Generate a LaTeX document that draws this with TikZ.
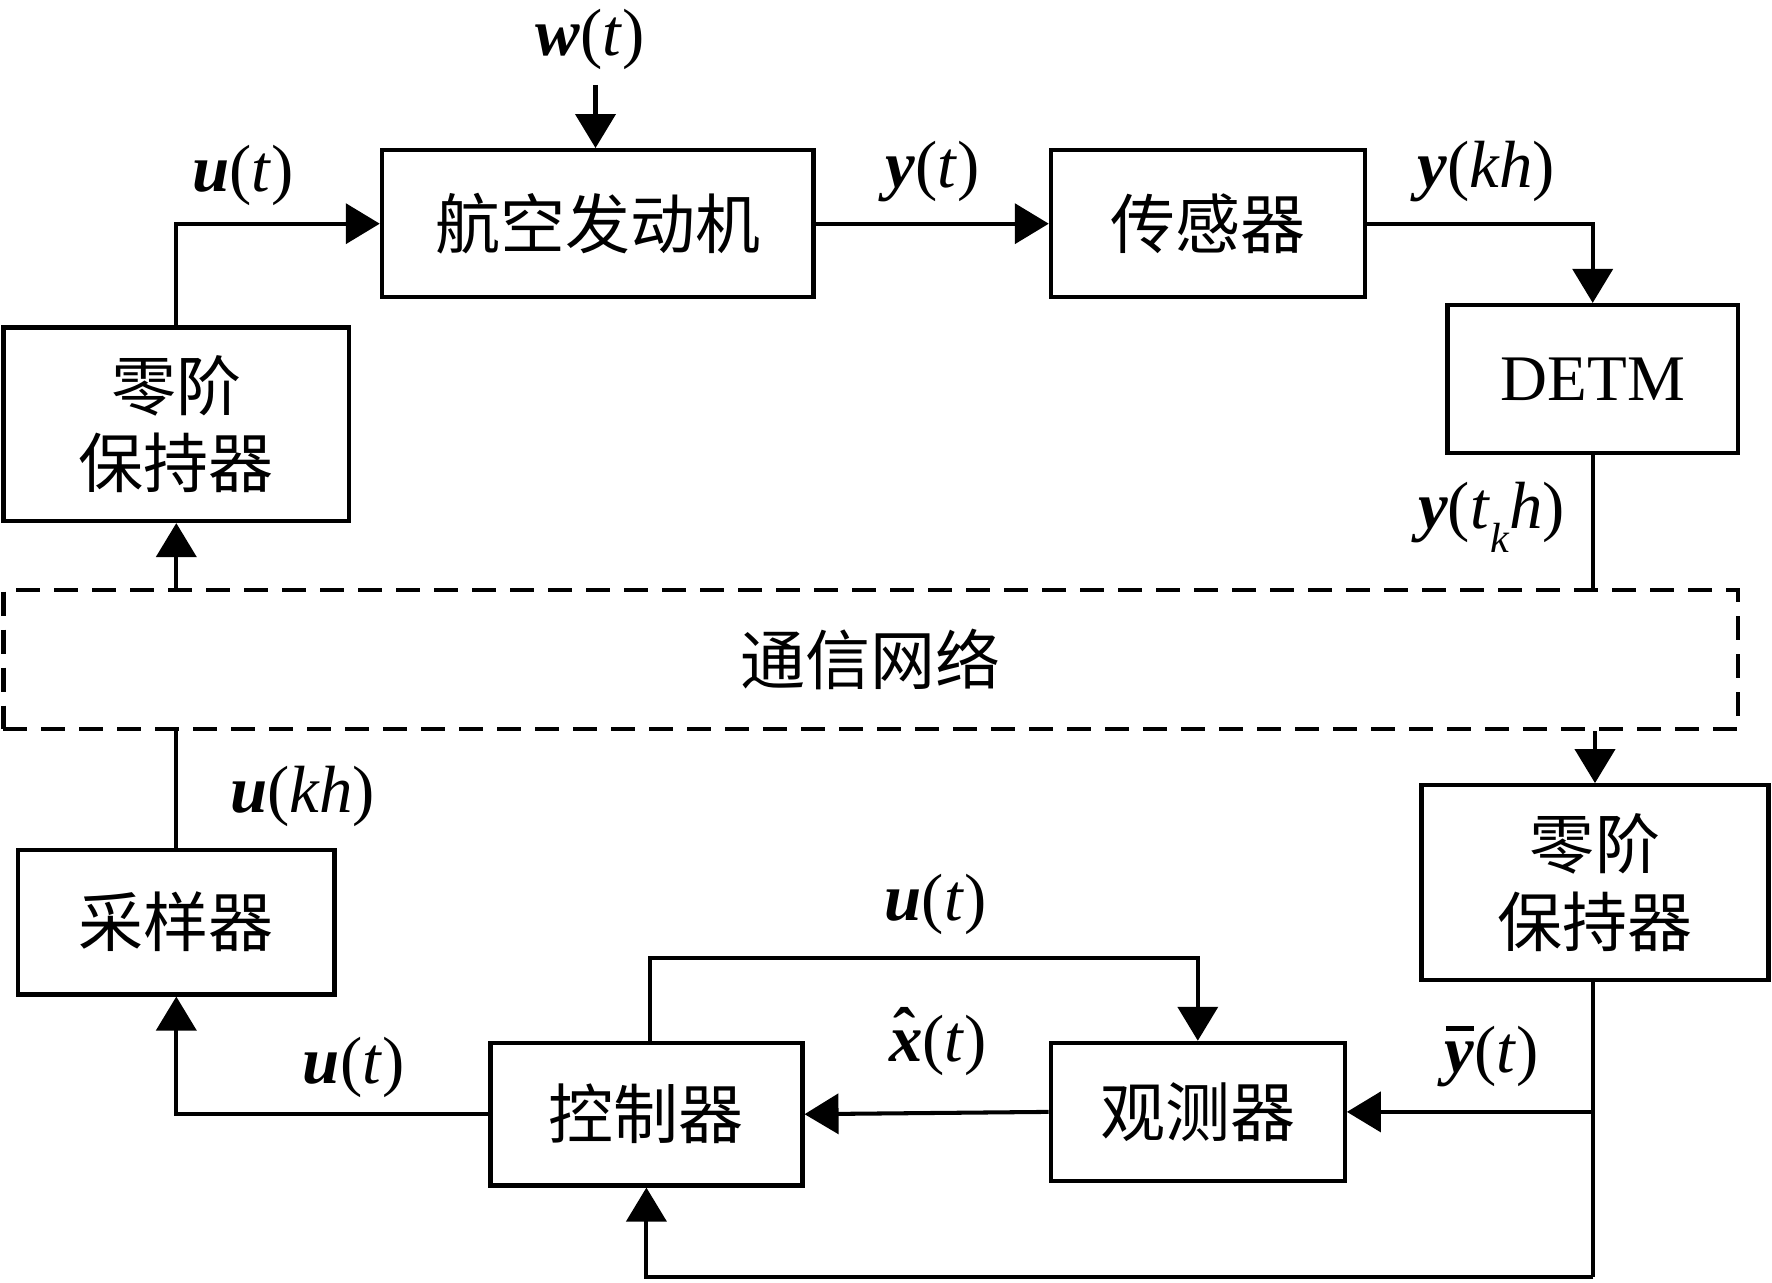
\documentclass[tikz,border=0pt]{standalone}
\usepackage{fontspec}
\setmainfont{Liberation Serif}
\newfontfamily\cjk{Noto Sans CJK SC}
\usetikzlibrary{arrows.meta}
\newcommand{\bv}[1]{\textbf{\textit{#1}}}
\newcommand{\iv}[1]{\textit{#1}}
\tikzset{
  blk/.style={draw, line width=1.25pt, inner sep=0pt, align=center,
    font=\cjk\fontsize{18.5}{22}\selectfont},
  arr/.style={-{Triangle[length=3.4mm,width=4mm]}, line width=1.15pt},
  ln/.style={line width=1.15pt},
  lab/.style={font=\fontsize{19}{22}\selectfont, inner sep=0pt},
}
\begin{document}
\begin{tikzpicture}
\useasboundingbox (0,0) rectangle (17.72,-12.826);
% blocks
\node[blk, minimum width=3.458cm, minimum height=1.932cm] (lzoh) at (1.763,-4.243) {零阶\\保持器};
\node[blk, minimum width=4.317cm, minimum height=1.469cm] (eng) at (5.978,-2.237) {航空发动机};
\node[blk, minimum width=3.141cm, minimum height=1.469cm] (sens) at (12.080,-2.237) {传感器};
\node[blk, minimum width=2.904cm, minimum height=1.480cm, font=\fontsize{18.5}{22}\selectfont] (detm) at (15.927,-3.791) {DETM};
\node[blk, dashed, dash pattern=on 2.4mm off 1.4mm, minimum width=17.346cm, minimum height=1.390cm] (net) at (8.707,-6.594) {通信网络};
\node[blk, minimum width=3.469cm, minimum height=1.944cm] (rzoh) at (15.950,-8.825) {零阶\\保持器};
\node[blk, minimum width=2.938cm, minimum height=1.379cm] (obs) at (11.978,-11.119) {观测器};
\node[blk, minimum width=3.119cm, minimum height=1.424cm] (ctrl) at (6.464,-11.142) {控制器};
\node[blk, minimum width=3.164cm, minimum height=1.446cm] (samp) at (1.763,-9.221) {采样器};
% labels
\node[lab] (lw) at (5.899,-0.396) {\bv{w}(\iv{t})};
\node[lab] (lu1) at (2.430,-1.752) {\bv{u}(\iv{t})};
\node[lab] (ly) at (9.323,-1.718) {\bv{y}(\iv{t})};
\node[lab] (lykh) at (14.860,-1.718) {\bv{y}(\iv{kh})};
\node[lab] (lytk) at (14.916,-5.175) {\bv{y}(\iv{t}\raisebox{-0.35em}{\fontsize{12}{14}\selectfont\iv{k}}\iv{h})};
\node[lab] (lukh) at (3.028,-7.967) {\bv{u}(\iv{kh})};
\node[lab] (lu2) at (9.356,-9.040) {\bv{u}(\iv{t})};
\node[lab] (lx) at (9.379,-10.419) {\makebox[0pt][l]{\hspace{0.07em}\raisebox{0.1em}{\textbf{ˆ}}}\bv{x}(\iv{t})};
\node[lab] (lyb) at (14.916,-10.566) {\makebox[0pt][l]{\raisebox{0.62em}{\hspace{0.02em}\rule{0.42em}{0.07em}}}\bv{y}(\iv{t})};
\node[lab] (lu3) at (3.537,-10.679) {\bv{u}(\iv{t})};
% connectors
\coordinate (wtop) at (5.955,-0.848);
\draw[arr] (wtop) -- (wtop |- eng.north);
\draw[arr] (lzoh.north) |- (eng.west);
\draw[arr] (eng.east) -- (sens.west);
\draw[arr] (sens.east) -| (detm.north);
\draw[ln] (detm.south) -- (detm.south |- net.north);
\draw[arr] (net.south -| rzoh.north) -- (rzoh.north);
\coordinate (bot) at (15.933,-12.769);
\draw[ln] (rzoh.south -| bot) -- (bot);
\draw[arr] (bot) -| (ctrl.south);
\draw[arr] (obs.east -| bot) -- (obs.east);
\draw[arr] (obs.west) -- (ctrl.east);
\coordinate (topl) at (6.498,-9.582);
\draw[arr] (topl |- ctrl.north) -- (topl) -| (obs.north);
\draw[arr] (ctrl.west) -| (samp.south);
\draw[ln] (samp.north) -- (samp.north |- net.south);
\draw[arr] (net.north -| lzoh.south) -- (lzoh.south);
\end{tikzpicture}
\end{document}
